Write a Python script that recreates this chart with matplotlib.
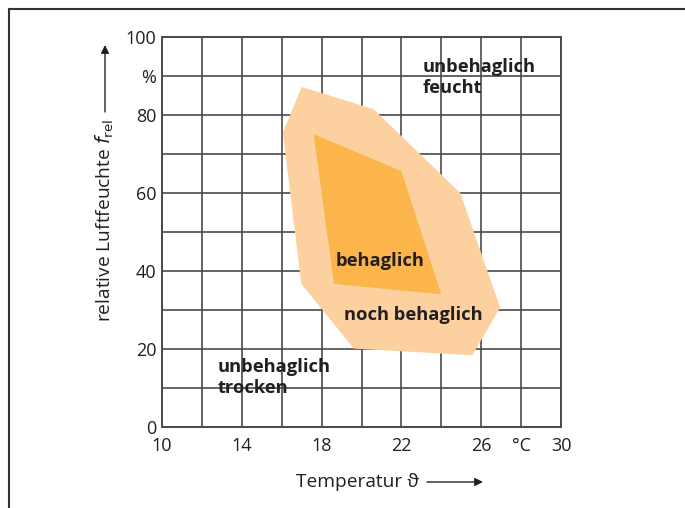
import matplotlib
matplotlib.use("Agg")
import matplotlib.pyplot as plt
from matplotlib.patches import Polygon
from matplotlib.lines import Line2D

plt.rcParams['font.family'] = ['Open Sans', 'DejaVu Sans']

# Data
outer_t = [17.0, 20.6, 24.95, 26.95, 25.55, 19.62, 16.98, 16.06]
outer_rh = [87.2, 81.5, 60.0, 30.6, 18.4, 20.1, 36.7, 75.5]
inner_t = [17.6, 22.0, 24.0, 18.62]
inner_rh = [75.1, 65.6, 34.0, 36.7]

x_ticks = [10, 14, 18, 22, 26, 28, 30]
x_labels = ['10', '14', '18', '22', '26', '°C', '30']
y_ticks = [0, 20, 40, 60, 80, 90, 100]
y_labels = ['0', '20', '40', '60', '80', '%', '100']

region_labels = ['unbehaglich\nfeucht', 'behaglich', 'noch behaglich', 'unbehaglich\ntrocken']
region_x = [23.05, 20.95, 22.6, 12.8]
region_y = [94.6, 42.6, 28.6, 17.6]

W, H = 685, 508
fig = plt.figure(figsize=(W / 100, H / 100), dpi=100)
ax = fig.add_axes([162 / W, 1 - 427 / H, (561 - 162) / W, (427 - 37) / H])

txt = '#231f20'
gridc = '#4a4a4a'

ax.set_xlim(10, 30)
ax.set_ylim(0, 100)
for xv in range(10, 31, 2):
    ax.axvline(xv, color=gridc, lw=1.2, zorder=1)
for yv in range(0, 101, 10):
    ax.axhline(yv, color=gridc, lw=1.2, zorder=1)

ax.add_patch(Polygon(list(zip(outer_t, outer_rh)), closed=True, facecolor='#fdd19f', edgecolor='none', zorder=2))
ax.add_patch(Polygon(list(zip(inner_t, inner_rh)), closed=True, facecolor='#fbb54b', edgecolor='none', zorder=3))

for s in ax.spines.values():
    s.set_color(gridc)
    s.set_linewidth(1.4)
    s.set_zorder(5)

ax.set_xticks(x_ticks)
ax.set_xticklabels(x_labels)
ax.set_yticks(y_ticks)
ax.set_yticklabels(y_labels)
ax.tick_params(length=0, labelsize=13, colors=txt, pad=4)
ax.tick_params(axis='x', pad=7)

for lab, xv, yv in zip(region_labels, region_x, region_y):
    if '\n' in lab:
        ax.text(xv, yv, lab, ha='left', va='top', fontsize=13.2, fontweight='bold',
                color=txt, linespacing=1.2, zorder=6)
    else:
        ax.text(xv, yv, lab, ha='center', va='center', fontsize=13.2, fontweight='bold',
                color=txt, zorder=6)

# axis labels with arrows
fig.text(105 / W, 1 - 220 / H, r'relative Luftfeuchte $f_{\mathrm{rel}}$', rotation=90,
         ha='center', va='center', fontsize=13.8, color=txt)
fig.add_artist(plt.Annotation('', xy=(105 / W, 1 - 45 / H), xytext=(105 / W, 1 - 112 / H),
                              xycoords='figure fraction', textcoords='figure fraction',
                              arrowprops=dict(arrowstyle='-|>', color=txt, lw=1.0,
                                              mutation_scale=12, shrinkA=0, shrinkB=0)))
fig.text(296 / W, 1 - 482 / H, 'Temperatur ϑ', ha='left', va='center', fontsize=13.8, color=txt)
fig.add_artist(plt.Annotation('', xy=(483 / W, 1 - 482 / H), xytext=(427 / W, 1 - 482 / H),
                              xycoords='figure fraction', textcoords='figure fraction',
                              arrowprops=dict(arrowstyle='-|>', color=txt, lw=1.0,
                                              mutation_scale=12, shrinkA=0, shrinkB=0)))

# frame
fig.add_artist(Line2D([9 / W, 1], [1 - 9 / H, 1 - 9 / H], color='#333333', lw=1.5))
fig.add_artist(Line2D([9 / W, 9 / W], [0, 1 - 9 / H], color='#333333', lw=1.5))

fig.savefig('out.png', dpi=100)
